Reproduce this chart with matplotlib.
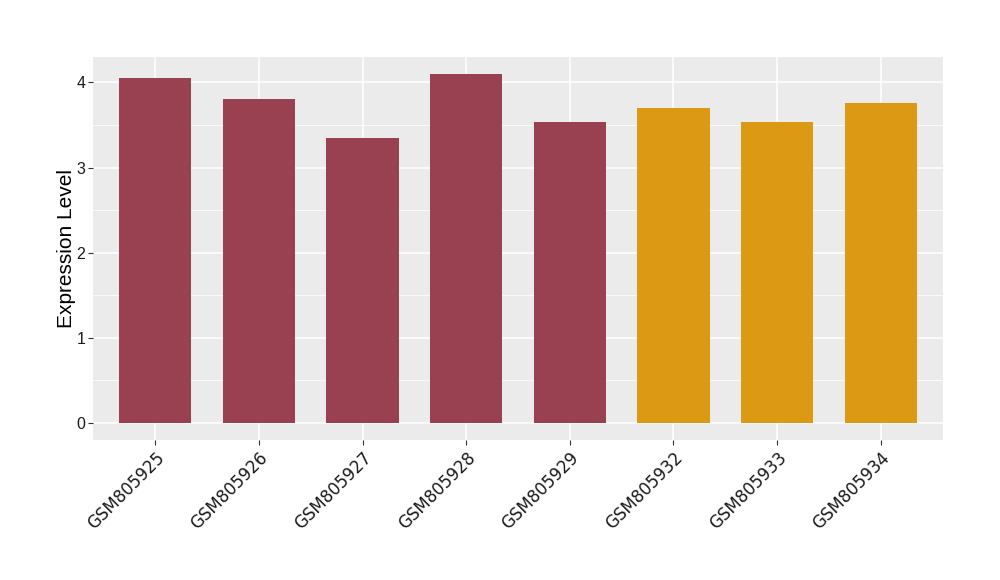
import matplotlib
matplotlib.use("Agg")
import matplotlib.pyplot as plt

samples = ["GSM805925", "GSM805926", "GSM805927", "GSM805928", "GSM805929",
           "GSM805932", "GSM805933", "GSM805934"]
values = [4.05, 3.81, 3.345, 4.095, 3.53, 3.695, 3.53, 3.755]
groups = ["A", "A", "A", "A", "A", "B", "B", "B"]
group_colors = {"A": "#994150", "B": "#DC9913"}

fig = plt.figure(figsize=(10, 5.8), dpi=100)
ax = fig.add_axes([0.093, (580 - 440) / 580, 0.85, 383 / 580])
ax.set_facecolor("#EBEBEB")

x = list(range(1, len(samples) + 1))
ax.bar(x, values, width=0.7, color=[group_colors[g] for g in groups], zorder=3)

ax.set_xlim(0.4, len(samples) + 0.6)
ymax = max(values)
ax.set_ylim(-0.05 * ymax, ymax * 1.05)
ax.set_yticks([0, 1, 2, 3, 4])
ax.set_yticks([0.5, 1.5, 2.5, 3.5], minor=True)
ax.set_xticks(x)
ax.set_xticklabels(samples, rotation=45, ha="right", va="top",
                   rotation_mode="anchor", fontsize=12, family="DejaVu Sans", color="#1a1a1a")
for lab in ax.get_yticklabels():
    lab.set_family("Liberation Sans")
    lab.set_fontsize(11.5)
    lab.set_color("#1a1a1a")

ax.grid(True, which="major", color="white", linewidth=1.1, zorder=0)
ax.grid(True, which="minor", axis="y", color="white", linewidth=0.55, zorder=0)
ax.tick_params(axis="both", which="major", length=3.5, color="#333333", width=0.8)
ax.tick_params(axis="y", which="minor", length=0)
ax.tick_params(axis="y", which="major", pad=2)
ax.tick_params(axis="x", pad=3)
for s in ax.spines.values():
    s.set_visible(False)

ax.set_ylabel("Expression Level", fontsize=15, family="Liberation Sans", labelpad=0)

fig.savefig("out.png", dpi=100)
